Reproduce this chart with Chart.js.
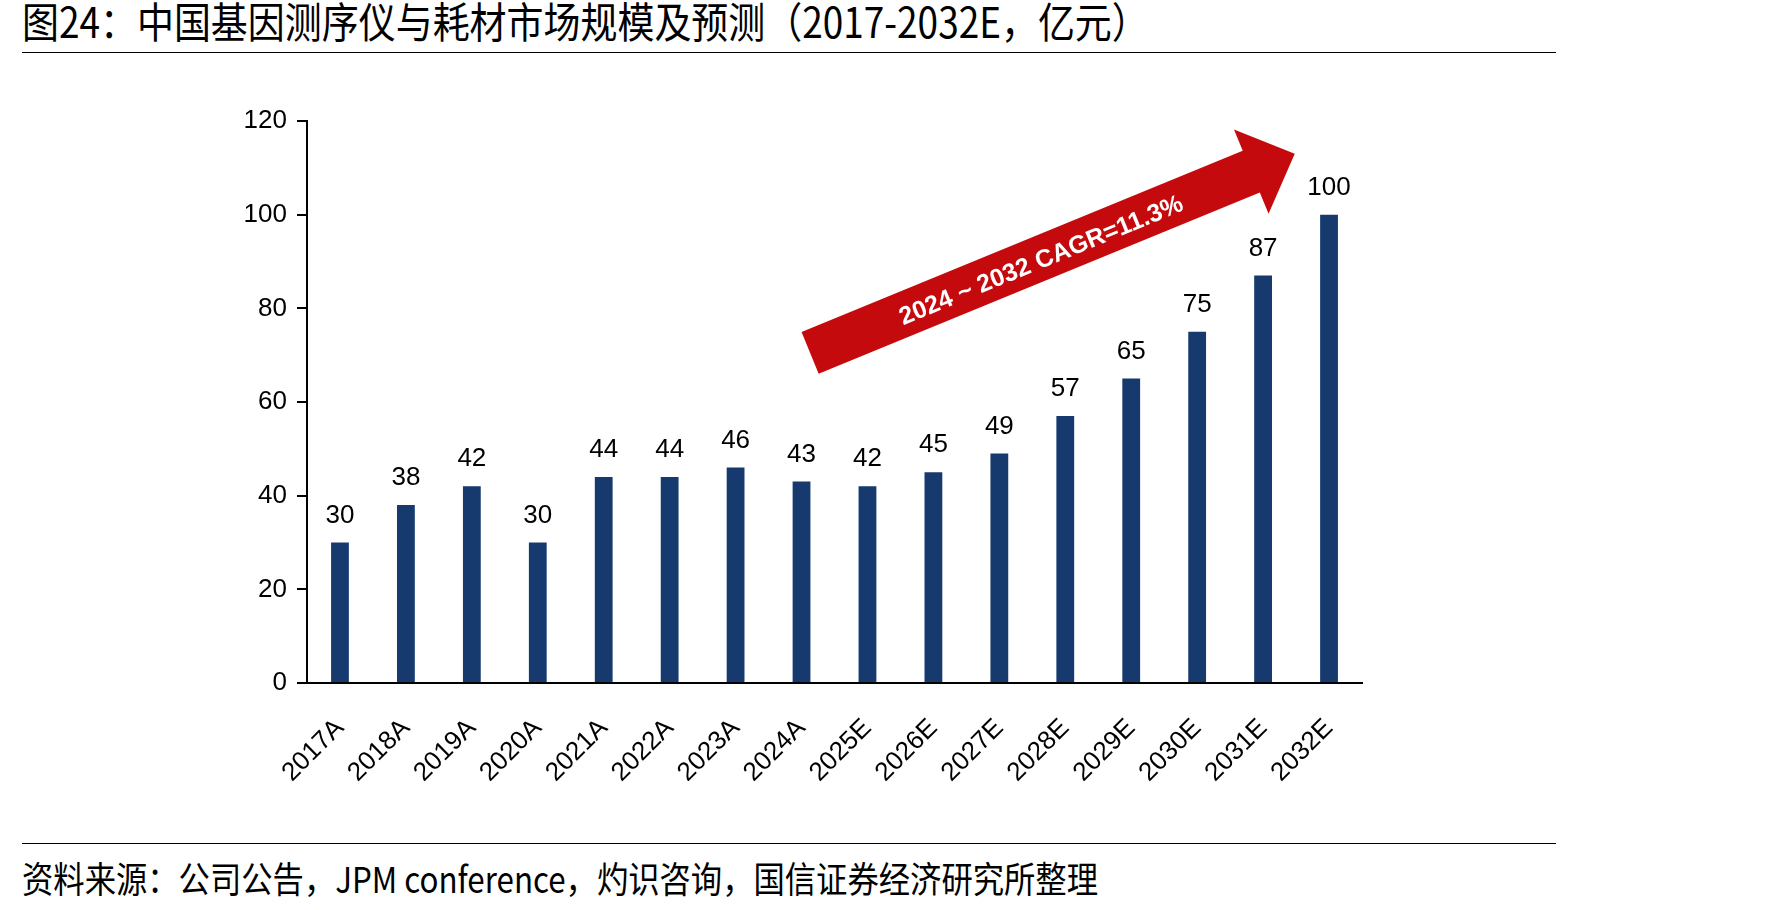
<!DOCTYPE html>
<html>
<head>
<meta charset="utf-8">
<script src="https://cdn.jsdelivr.net/npm/chart.js@4.4.0/dist/chart.umd.min.js"></script>
<style>
  body { margin: 0; background: #fff; width: 1771px; height: 910px; overflow: hidden; position: relative; }
  .cjk { position: absolute; left: 22px; font-family: "Noto Sans CJK SC", sans-serif; color: #000; white-space: nowrap; transform-origin: left top; line-height: 1; }
  #title { top: -1px; font-size: 42px; transform: scaleX(0.88); }
  #source { top: 859px; font-size: 36px; transform: scaleX(0.87); }
  .rule { position: absolute; left: 22px; width: 1534px; height: 0; border-top: 1.5px solid #000; }
  #chartBox { position: absolute; left: 0; top: 0; width: 1771px; height: 910px; }
</style>
</head>
<body>
<div id="title" class="cjk">图24：中国基因测序仪与耗材市场规模及预测（2017-2032E，亿元）</div>
<div class="rule" style="top:52px"></div>
<div class="rule" style="top:843px"></div>
<div id="source" class="cjk">资料来源：公司公告，JPM conference，灼识咨询，国信证券经济研究所整理</div>
<div id="chartBox"><canvas id="barChart" width="1771" height="910"></canvas></div>

<script>
const years = ['2017A', '2018A', '2019A', '2020A', '2021A', '2022A', '2023A', '2024A',
               '2025E', '2026E', '2027E', '2028E', '2029E', '2030E', '2031E', '2032E'];
const marketSize = [30, 38, 42, 30, 44, 44, 46, 43, 42, 45, 49, 57, 65, 75, 87, 100];
const yTicks = [0, 20, 40, 60, 80, 100, 120];
const cagrText = '2024 ~ 2032 CAGR=11.3%';

const navy = '#163a6e';
const red = '#c40a0c';
const labelFont = '26px "Liberation Sans", Arial, sans-serif';

// red growth arrow, ends given as [category index, value]
const arrowPlugin = {
    id: 'cagrArrow',
    afterDatasetsDraw(chart) {
        const ctx = chart.ctx;
        const x = chart.scales.x, y = chart.scales.y;
        const tx = x.getPixelForValue(7.13), ty = y.getPixelForValue(70.5);
        const px = x.getPixelForValue(14.48), py = y.getPixelForValue(113);
        const len = Math.hypot(px - tx, py - ty);
        const ang = Math.atan2(py - ty, px - tx);
        const headLen = 47, shaft = 22.5, head = 45.5;

        ctx.save();
        ctx.translate(tx, ty);
        ctx.rotate(ang);
        ctx.beginPath();
        ctx.moveTo(0, -shaft);
        ctx.lineTo(len - headLen, -shaft);
        ctx.lineTo(len - headLen, -head);
        ctx.lineTo(len, 0);
        ctx.lineTo(len - headLen, head);
        ctx.lineTo(len - headLen, shaft);
        ctx.lineTo(0, shaft);
        ctx.closePath();
        ctx.fillStyle = red;
        ctx.fill();

        ctx.fillStyle = '#fff';
        ctx.font = 'bold 25px "Liberation Sans", Arial, sans-serif';
        ctx.textAlign = 'center';
        ctx.textBaseline = 'middle';
        ctx.fillText(cagrText, len * 0.475, 3);
        ctx.restore();
    }
};

// numbers above the bars
const valueLabels = {
    id: 'valueLabels',
    afterDatasetsDraw(chart) {
        const ctx = chart.ctx;
        const meta = chart.getDatasetMeta(0);
        ctx.save();
        ctx.font = labelFont;
        ctx.fillStyle = '#000';
        ctx.textAlign = 'center';
        ctx.textBaseline = 'alphabetic';
        meta.data.forEach((bar, i) => {
            ctx.fillText(marketSize[i], bar.x, bar.y - 20);
        });
        ctx.restore();
    }
};

const ctx = document.getElementById('barChart').getContext('2d');
const barChart = new Chart(ctx, {
    type: 'bar',
    data: {
        labels: years,
        datasets: [{
            data: marketSize,
            backgroundColor: navy,
            barPercentage: 0.27,
            categoryPercentage: 1
        }]
    },
    options: {
        responsive: false,
        animation: false,
        layout: { padding: { top: 121, right: 409, bottom: 0, left: 0 } },
        plugins: {
            legend: { display: false },
            tooltip: { enabled: false }
        },
        scales: {
            x: {
                grid: { display: false, drawTicks: false },
                border: { display: true, color: '#000', width: 2 },
                ticks: {
                    color: '#000',
                    font: { family: '"Liberation Sans", Arial, sans-serif', size: 26 },
                    minRotation: 45,
                    maxRotation: 45,
                    padding: 30,
                    autoSkip: false
                },
                afterFit(scale) { scale.height = 227; }
            },
            y: {
                min: 0,
                max: 120,
                afterBuildTicks(scale) { scale.ticks = yTicks.map(v => ({ value: v })); },
                grid: { drawOnChartArea: false, drawTicks: true, tickLength: 10, color: '#000', lineWidth: 2 },
                border: { display: true, color: '#000', width: 2 },
                ticks: {
                    color: '#000',
                    font: { family: '"Liberation Sans", Arial, sans-serif', size: 26 },
                    padding: 10
                },
                afterFit(scale) { scale.width = 307; }
            }
        }
    },
    plugins: [arrowPlugin, valueLabels]
});
</script>
</body>
</html>
